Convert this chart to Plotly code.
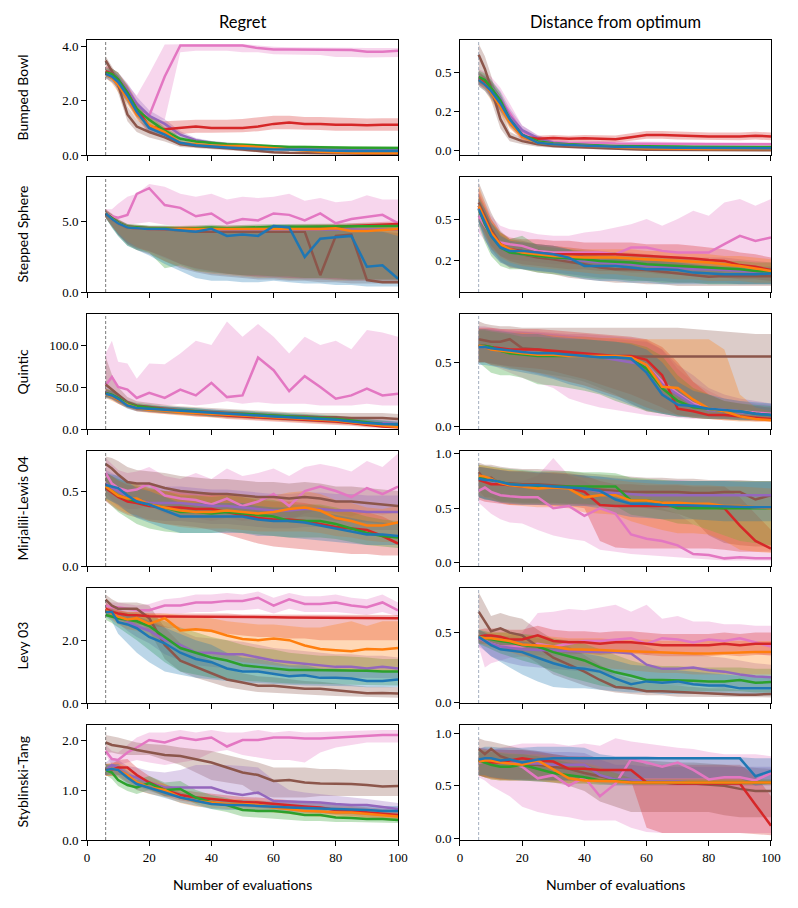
import plotly.graph_objects as go
from plotly.subplots import make_subplots

X = [6, 8, 10, 13, 16, 20, 25, 30, 35, 40, 45, 50, 55, 60, 65, 70, 75, 80, 85, 90, 95, 100]

COLORS = {
    "blue": (31, 119, 180),
    "orange": (255, 127, 14),
    "green": (44, 160, 44),
    "red": (214, 39, 40),
    "purple": (148, 103, 189),
    "brown": (140, 86, 75),
    "pink": (227, 119, 194),
}
DRAW_ORDER = ["pink", "brown", "purple", "red", "green", "orange", "blue"]

# each entry: (mean, lower band, upper band)
bumped_bowl_regret = {
    "blue": ([3.0, 2.9, 2.7, 2.2, 1.6, 1.0, 0.75, 0.45, 0.36, 0.31, 0.28, 0.25, 0.22, 0.2, 0.2, 0.18, 0.17, 0.16, 0.15, 0.15, 0.15, 0.15],
             [2.85, 2.7, 2.45, 1.95, 1.4, 0.85, 0.62, 0.37, 0.29, 0.25, 0.22, 0.2, 0.17, 0.15, 0.15, 0.13, 0.12, 0.11, 0.1, 0.1, 0.1, 0.1],
             [3.15, 3.1, 2.95, 2.45, 1.8, 1.15, 0.88, 0.55, 0.43, 0.38, 0.34, 0.3, 0.27, 0.25, 0.25, 0.23, 0.22, 0.21, 0.2, 0.2, 0.2, 0.2]),
    "orange": ([3.0, 2.85, 2.6, 2.1, 1.5, 1.1, 0.85, 0.45, 0.4, 0.35, 0.33, 0.33, 0.3, 0.25, 0.2, 0.15, 0.12, 0.1, 0.08, 0.07, 0.07, 0.07],
               [2.85, 2.65, 2.35, 1.85, 1.3, 0.95, 0.7, 0.37, 0.32, 0.28, 0.26, 0.26, 0.23, 0.19, 0.15, 0.1, 0.08, 0.06, 0.05, 0.04, 0.04, 0.04],
               [3.15, 3.05, 2.85, 2.35, 1.7, 1.25, 1.0, 0.55, 0.48, 0.42, 0.4, 0.4, 0.37, 0.31, 0.26, 0.2, 0.16, 0.14, 0.12, 0.1, 0.1, 0.1]),
    "green": ([3.05, 3.0, 2.8, 2.3, 1.7, 1.3, 0.9, 0.6, 0.5, 0.45, 0.4, 0.38, 0.35, 0.32, 0.3, 0.3, 0.28, 0.28, 0.27, 0.27, 0.26, 0.26],
              [2.9, 2.8, 2.55, 2.05, 1.5, 1.12, 0.78, 0.52, 0.43, 0.39, 0.34, 0.32, 0.3, 0.27, 0.25, 0.25, 0.23, 0.23, 0.22, 0.22, 0.21, 0.21],
              [3.2, 3.2, 3.05, 2.55, 1.9, 1.48, 1.02, 0.68, 0.57, 0.51, 0.46, 0.44, 0.4, 0.37, 0.35, 0.35, 0.33, 0.33, 0.32, 0.32, 0.31, 0.31]),
    "red": ([3.1, 3.0, 2.8, 2.3, 1.7, 1.05, 0.95, 1.0, 1.05, 1.0, 1.0, 1.0, 1.05, 1.15, 1.2, 1.15, 1.15, 1.12, 1.12, 1.1, 1.12, 1.12],
            [2.9, 2.8, 2.5, 1.95, 1.35, 0.8, 0.7, 0.78, 0.82, 0.82, 0.82, 0.84, 0.88, 0.95, 0.95, 0.94, 0.92, 0.9, 0.9, 0.88, 0.9, 0.9],
            [3.3, 3.2, 3.05, 2.6, 2.0, 1.4, 1.25, 1.28, 1.3, 1.3, 1.3, 1.33, 1.38, 1.45, 1.45, 1.4, 1.4, 1.38, 1.36, 1.35, 1.36, 1.36]),
    "purple": ([3.1, 3.0, 2.8, 2.4, 1.9, 1.45, 1.15, 0.75, 0.55, 0.45, 0.4, 0.35, 0.33, 0.3, 0.28, 0.27, 0.25, 0.23, 0.22, 0.21, 0.2, 0.2],
               [2.95, 2.8, 2.55, 2.15, 1.65, 1.25, 0.98, 0.63, 0.47, 0.38, 0.34, 0.3, 0.28, 0.25, 0.23, 0.22, 0.2, 0.18, 0.17, 0.16, 0.15, 0.15],
               [3.25, 3.2, 3.05, 2.65, 2.15, 1.65, 1.32, 0.88, 0.63, 0.52, 0.46, 0.4, 0.38, 0.35, 0.33, 0.32, 0.3, 0.28, 0.27, 0.26, 0.25, 0.25]),
    "brown": ([3.5, 3.1, 2.6, 1.5, 1.05, 0.85, 0.65, 0.4, 0.33, 0.3, 0.25, 0.2, 0.15, 0.1, 0.08, 0.07, 0.06, 0.05, 0.05, 0.05, 0.05, 0.05],
              [3.3, 2.9, 2.3, 1.25, 0.85, 0.65, 0.5, 0.3, 0.25, 0.22, 0.18, 0.14, 0.1, 0.06, 0.04, 0.03, 0.03, 0.02, 0.02, 0.02, 0.02, 0.02],
              [3.65, 3.3, 2.9, 1.8, 1.3, 1.05, 0.8, 0.5, 0.42, 0.38, 0.32, 0.26, 0.2, 0.15, 0.12, 0.1, 0.09, 0.08, 0.08, 0.08, 0.08, 0.08]),
    "pink": ([3.0, 2.9, 2.7, 2.3, 1.6, 1.45, 2.9, 4.05, 4.05, 4.05, 4.07, 4.05, 3.95, 3.9, 3.9, 3.9, 3.9, 3.88, 3.88, 3.82, 3.82, 3.85],
             [2.85, 2.7, 2.45, 2.0, 1.4, 1.3, 1.3, 3.8, 3.85, 3.85, 3.85, 3.8, 3.8, 3.72, 3.7, 3.7, 3.7, 3.62, 3.62, 3.6, 3.6, 3.62],
             [3.15, 3.1, 2.95, 2.6, 2.2, 3.0, 4.08, 4.1, 4.1, 4.1, 4.1, 4.1, 4.05, 4.0, 3.98, 3.98, 3.98, 3.96, 3.96, 3.95, 3.95, 3.95]),
}

bumped_bowl_distance = {
    "blue": ([0.45, 0.42, 0.38, 0.3, 0.2, 0.1, 0.05, 0.04, 0.035, 0.03, 0.028, 0.025, 0.022, 0.02, 0.02, 0.018, 0.017, 0.016, 0.015, 0.015, 0.015, 0.015],
             [0.41, 0.38, 0.33, 0.25, 0.16, 0.08, 0.04, 0.03, 0.026, 0.022, 0.02, 0.018, 0.016, 0.014, 0.014, 0.012, 0.011, 0.01, 0.01, 0.01, 0.01, 0.01],
             [0.49, 0.47, 0.43, 0.35, 0.24, 0.12, 0.065, 0.05, 0.045, 0.04, 0.036, 0.032, 0.03, 0.028, 0.027, 0.025, 0.024, 0.023, 0.022, 0.022, 0.022, 0.022]),
    "orange": ([0.45, 0.42, 0.37, 0.28, 0.18, 0.09, 0.05, 0.04, 0.035, 0.03, 0.025, 0.02, 0.018, 0.015, 0.013, 0.012, 0.01, 0.01, 0.01, 0.01, 0.01, 0.01],
               [0.41, 0.38, 0.32, 0.23, 0.14, 0.07, 0.04, 0.03, 0.026, 0.022, 0.018, 0.014, 0.012, 0.01, 0.008, 0.007, 0.006, 0.006, 0.006, 0.006, 0.006, 0.006],
               [0.49, 0.47, 0.42, 0.33, 0.22, 0.11, 0.065, 0.05, 0.044, 0.038, 0.032, 0.027, 0.024, 0.02, 0.018, 0.017, 0.015, 0.015, 0.015, 0.015, 0.015, 0.015]),
    "green": ([0.47, 0.45, 0.4, 0.32, 0.2, 0.1, 0.06, 0.045, 0.04, 0.035, 0.032, 0.03, 0.03, 0.028, 0.027, 0.026, 0.025, 0.025, 0.024, 0.024, 0.023, 0.023],
              [0.43, 0.41, 0.35, 0.27, 0.16, 0.08, 0.05, 0.037, 0.032, 0.028, 0.026, 0.024, 0.024, 0.022, 0.021, 0.02, 0.019, 0.019, 0.018, 0.018, 0.017, 0.017],
              [0.51, 0.49, 0.45, 0.37, 0.24, 0.12, 0.07, 0.053, 0.048, 0.042, 0.038, 0.036, 0.036, 0.034, 0.033, 0.032, 0.031, 0.031, 0.03, 0.03, 0.029, 0.029]),
    "red": ([0.46, 0.43, 0.39, 0.3, 0.19, 0.09, 0.075, 0.08, 0.075, 0.078, 0.075, 0.072, 0.085, 0.1, 0.1, 0.095, 0.093, 0.09, 0.09, 0.09, 0.095, 0.09],
            [0.42, 0.39, 0.34, 0.25, 0.15, 0.065, 0.055, 0.058, 0.055, 0.056, 0.054, 0.052, 0.062, 0.075, 0.075, 0.07, 0.068, 0.066, 0.066, 0.066, 0.07, 0.066],
            [0.5, 0.47, 0.44, 0.35, 0.23, 0.115, 0.095, 0.1, 0.095, 0.1, 0.098, 0.096, 0.11, 0.125, 0.125, 0.12, 0.118, 0.115, 0.115, 0.115, 0.12, 0.115]),
    "purple": ([0.46, 0.44, 0.4, 0.33, 0.22, 0.13, 0.08, 0.05, 0.04, 0.035, 0.03, 0.025, 0.022, 0.02, 0.02, 0.018, 0.017, 0.016, 0.016, 0.015, 0.015, 0.015],
               [0.42, 0.4, 0.35, 0.28, 0.18, 0.1, 0.06, 0.04, 0.032, 0.028, 0.024, 0.02, 0.018, 0.016, 0.016, 0.014, 0.013, 0.012, 0.012, 0.011, 0.011, 0.011],
               [0.5, 0.48, 0.45, 0.38, 0.27, 0.16, 0.1, 0.06, 0.048, 0.042, 0.036, 0.03, 0.026, 0.024, 0.024, 0.022, 0.021, 0.02, 0.02, 0.019, 0.019, 0.019]),
    "brown": ([0.61, 0.52, 0.4, 0.2, 0.09, 0.06, 0.04, 0.03, 0.025, 0.02, 0.015, 0.01, 0.008, 0.006, 0.005, 0.004, 0.003, 0.002, 0.002, 0.002, 0.002, 0.002],
              [0.5, 0.44, 0.32, 0.14, 0.06, 0.04, 0.025, 0.018, 0.014, 0.01, 0.007, 0.004, 0.003, 0.002, 0.001, 0.001, 0.0, 0.0, 0.0, 0.0, 0.0, 0.0],
              [0.68, 0.6, 0.48, 0.27, 0.12, 0.08, 0.055, 0.042, 0.036, 0.03, 0.024, 0.018, 0.015, 0.012, 0.01, 0.009, 0.008, 0.007, 0.007, 0.007, 0.007, 0.007]),
    "pink": ([0.47, 0.44, 0.4, 0.33, 0.24, 0.12, 0.07, 0.055, 0.05, 0.05, 0.048, 0.045, 0.045, 0.045, 0.043, 0.042, 0.042, 0.041, 0.04, 0.04, 0.04, 0.04],
             [0.42, 0.39, 0.34, 0.26, 0.18, 0.09, 0.05, 0.04, 0.037, 0.037, 0.035, 0.033, 0.033, 0.033, 0.032, 0.031, 0.031, 0.03, 0.03, 0.03, 0.03, 0.03],
             [0.52, 0.5, 0.47, 0.4, 0.3, 0.16, 0.095, 0.075, 0.065, 0.063, 0.06, 0.058, 0.058, 0.057, 0.055, 0.054, 0.054, 0.053, 0.052, 0.052, 0.052, 0.052]),
}

stepped_sphere_regret = {
    "blue": ([5.6, 5.2, 4.9, 4.6, 4.55, 4.5, 4.5, 4.4, 4.3, 4.5, 4.0, 4.1, 4.0, 4.7, 4.6, 2.5, 3.8, 3.9, 4.0, 1.8, 1.9, 0.95],
             [5.3, 4.6, 4.0, 3.3, 3.0, 2.6, 2.0, 1.5, 1.0, 0.8, 0.8, 0.7, 0.7, 0.8, 0.7, 0.6, 0.6, 0.5, 0.5, 0.4, 0.4, 0.4],
             [5.8, 5.5, 5.1, 4.8, 4.7, 4.65, 4.65, 4.6, 4.6, 4.7, 4.5, 4.5, 4.6, 4.8, 4.8, 4.6, 4.5, 4.5, 4.6, 4.4, 4.3, 4.0]),
    "orange": ([5.6, 5.2, 4.9, 4.6, 4.55, 4.5, 4.5, 4.5, 4.45, 4.45, 4.45, 4.45, 4.45, 4.45, 4.5, 4.5, 4.5, 4.55, 4.35, 4.35, 4.45, 4.5],
               [5.3, 4.7, 4.2, 3.6, 3.2, 2.8, 2.2, 1.8, 1.5, 1.3, 1.2, 1.1, 1.0, 1.0, 0.9, 0.9, 0.9, 0.8, 0.8, 0.8, 0.7, 0.7],
               [5.8, 5.5, 5.1, 4.8, 4.7, 4.65, 4.65, 4.65, 4.6, 4.6, 4.6, 4.6, 4.6, 4.6, 4.65, 4.65, 4.65, 4.7, 4.6, 4.6, 4.65, 4.7]),
    "green": ([5.6, 5.25, 4.95, 4.65, 4.6, 4.55, 4.55, 4.5, 4.55, 4.6, 4.55, 4.6, 4.6, 4.65, 4.65, 4.65, 4.65, 4.7, 4.65, 4.65, 4.7, 4.7],
              [5.3, 4.6, 4.0, 3.3, 3.0, 2.8, 1.7, 1.9, 1.5, 1.4, 1.3, 1.2, 1.2, 1.1, 1.1, 1.0, 1.0, 1.0, 0.9, 0.9, 0.9, 0.9],
              [5.8, 5.5, 5.15, 4.85, 4.8, 4.75, 4.75, 4.7, 4.75, 4.8, 4.75, 4.8, 4.8, 4.85, 4.85, 4.85, 4.85, 4.9, 4.85, 4.85, 4.9, 4.9]),
    "red": ([5.6, 5.25, 4.9, 4.6, 4.55, 4.5, 4.5, 4.5, 4.5, 4.5, 4.5, 4.5, 4.55, 4.55, 4.6, 4.6, 4.6, 4.65, 4.7, 4.75, 4.8, 4.85],
            [5.3, 4.7, 4.1, 3.4, 3.1, 2.9, 2.5, 2.0, 1.7, 1.5, 1.3, 1.2, 1.1, 1.1, 1.0, 1.0, 1.0, 0.9, 0.9, 0.9, 0.9, 0.9],
            [5.9, 5.55, 5.15, 4.8, 4.75, 4.7, 4.7, 4.7, 4.7, 4.7, 4.7, 4.7, 4.75, 4.75, 4.8, 4.8, 4.8, 4.85, 4.9, 4.95, 5.0, 5.05]),
    "purple": ([5.6, 5.2, 4.9, 4.6, 4.55, 4.5, 4.5, 4.45, 4.45, 4.45, 4.45, 4.4, 4.4, 4.4, 4.45, 4.4, 4.4, 4.4, 4.45, 4.45, 4.45, 4.45],
               [5.3, 4.7, 4.1, 3.5, 3.2, 2.9, 2.4, 2.0, 1.6, 1.4, 1.3, 1.2, 1.1, 1.0, 1.0, 0.9, 0.9, 0.9, 0.8, 0.8, 0.8, 0.8],
               [5.8, 5.5, 5.1, 4.8, 4.7, 4.65, 4.65, 4.6, 4.6, 4.6, 4.6, 4.55, 4.55, 4.55, 4.6, 4.55, 4.55, 4.55, 4.6, 4.6, 4.6, 4.6]),
    "brown": ([5.6, 5.25, 4.95, 4.65, 4.6, 4.5, 4.45, 4.4, 4.3, 4.3, 4.3, 4.3, 4.3, 4.3, 4.3, 4.3, 1.2, 4.0, 4.1, 0.85, 0.7, 0.7],
              [5.3, 4.7, 4.1, 3.4, 3.0, 2.7, 2.2, 1.7, 1.4, 1.2, 1.1, 1.0, 0.9, 0.9, 0.8, 0.8, 0.7, 0.7, 0.6, 0.6, 0.6, 0.6],
              [5.9, 5.6, 5.2, 4.85, 4.8, 4.7, 4.65, 4.6, 4.6, 4.6, 4.6, 4.6, 4.6, 4.6, 4.6, 4.6, 4.5, 4.5, 4.5, 4.4, 4.3, 4.2]),
    "pink": ([5.6, 5.4, 5.3, 5.5, 7.0, 7.4, 6.2, 6.0, 5.4, 5.6, 4.9, 5.2, 5.1, 5.6, 5.5, 5.1, 5.6, 4.9, 5.2, 5.35, 5.5, 4.9],
             [5.3, 5.0, 4.9, 4.8, 4.9, 5.0, 4.8, 4.7, 4.6, 4.7, 4.6, 4.5, 4.6, 4.6, 4.6, 4.6, 4.5, 4.5, 4.6, 4.6, 4.5, 4.4],
             [5.9, 5.9, 6.3, 6.8, 7.0, 7.7, 7.5, 7.0, 6.8, 7.0, 6.6, 6.8, 6.7, 6.8, 7.0, 6.5, 6.7, 6.4, 6.5, 6.9, 6.6, 6.6]),
}

stepped_sphere_distance = {
    "blue": ([0.56, 0.48, 0.4, 0.33, 0.31, 0.31, 0.3, 0.29, 0.27, 0.22, 0.22, 0.22, 0.21, 0.2, 0.2, 0.195, 0.18, 0.175, 0.17, 0.17, 0.17, 0.175],
             [0.48, 0.38, 0.3, 0.24, 0.22, 0.2, 0.19, 0.18, 0.16, 0.14, 0.13, 0.13, 0.12, 0.12, 0.11, 0.11, 0.11, 0.11, 0.11, 0.11, 0.11, 0.11],
             [0.62, 0.56, 0.48, 0.4, 0.37, 0.36, 0.35, 0.34, 0.32, 0.28, 0.27, 0.27, 0.26, 0.25, 0.25, 0.24, 0.23, 0.22, 0.21, 0.21, 0.21, 0.21]),
    "orange": ([0.58, 0.5, 0.42, 0.35, 0.32, 0.3, 0.29, 0.28, 0.275, 0.27, 0.27, 0.27, 0.265, 0.26, 0.255, 0.25, 0.245, 0.24, 0.23, 0.22, 0.205, 0.19],
               [0.5, 0.4, 0.33, 0.27, 0.24, 0.22, 0.21, 0.2, 0.19, 0.18, 0.17, 0.17, 0.16, 0.15, 0.15, 0.14, 0.14, 0.13, 0.13, 0.13, 0.12, 0.12],
               [0.7, 0.6, 0.5, 0.42, 0.38, 0.36, 0.35, 0.34, 0.33, 0.32, 0.32, 0.32, 0.32, 0.31, 0.31, 0.3, 0.3, 0.29, 0.28, 0.28, 0.27, 0.26]),
    "green": ([0.56, 0.47, 0.4, 0.33, 0.3, 0.29, 0.28, 0.27, 0.265, 0.26, 0.25, 0.245, 0.24, 0.23, 0.225, 0.22, 0.215, 0.21, 0.205, 0.2, 0.19, 0.185],
              [0.46, 0.36, 0.28, 0.22, 0.2, 0.2, 0.18, 0.17, 0.16, 0.15, 0.14, 0.14, 0.13, 0.13, 0.12, 0.12, 0.12, 0.11, 0.11, 0.11, 0.11, 0.11],
              [0.64, 0.56, 0.48, 0.42, 0.38, 0.4, 0.34, 0.33, 0.32, 0.31, 0.3, 0.3, 0.29, 0.28, 0.27, 0.27, 0.26, 0.26, 0.25, 0.25, 0.24, 0.24]),
    "red": ([0.58, 0.5, 0.42, 0.35, 0.32, 0.31, 0.3, 0.29, 0.29, 0.29, 0.29, 0.29, 0.285, 0.28, 0.275, 0.27, 0.265, 0.255, 0.25, 0.225, 0.215, 0.195],
            [0.5, 0.42, 0.34, 0.28, 0.25, 0.23, 0.22, 0.21, 0.2, 0.2, 0.19, 0.19, 0.18, 0.18, 0.17, 0.17, 0.16, 0.16, 0.15, 0.14, 0.14, 0.13],
            [0.66, 0.58, 0.5, 0.42, 0.39, 0.38, 0.38, 0.37, 0.37, 0.36, 0.36, 0.36, 0.36, 0.35, 0.35, 0.35, 0.34, 0.33, 0.32, 0.3, 0.29, 0.27]),
    "purple": ([0.57, 0.48, 0.4, 0.33, 0.3, 0.29, 0.28, 0.27, 0.26, 0.25, 0.24, 0.235, 0.23, 0.22, 0.215, 0.21, 0.2, 0.2, 0.195, 0.19, 0.185, 0.18],
               [0.48, 0.38, 0.3, 0.24, 0.21, 0.2, 0.19, 0.18, 0.17, 0.16, 0.15, 0.14, 0.14, 0.13, 0.13, 0.12, 0.12, 0.12, 0.12, 0.11, 0.11, 0.11],
               [0.65, 0.57, 0.48, 0.41, 0.37, 0.36, 0.35, 0.34, 0.33, 0.32, 0.31, 0.3, 0.3, 0.29, 0.28, 0.28, 0.27, 0.27, 0.27, 0.26, 0.25, 0.24]),
    "brown": ([0.6, 0.52, 0.44, 0.35, 0.3, 0.29, 0.27, 0.26, 0.245, 0.23, 0.21, 0.2, 0.2, 0.195, 0.185, 0.175, 0.165, 0.155, 0.16, 0.16, 0.158, 0.158],
              [0.48, 0.4, 0.32, 0.25, 0.21, 0.2, 0.18, 0.17, 0.15, 0.14, 0.13, 0.12, 0.12, 0.11, 0.11, 0.1, 0.1, 0.1, 0.1, 0.1, 0.1, 0.1],
              [0.72, 0.63, 0.54, 0.43, 0.38, 0.37, 0.35, 0.34, 0.32, 0.3, 0.28, 0.27, 0.27, 0.26, 0.25, 0.24, 0.23, 0.22, 0.22, 0.22, 0.22, 0.22]),
    "pink": ([0.52, 0.46, 0.41, 0.36, 0.35, 0.34, 0.31, 0.3, 0.3, 0.3, 0.3, 0.29, 0.33, 0.33, 0.31, 0.3, 0.3, 0.3, 0.35, 0.4, 0.37, 0.39],
             [0.42, 0.37, 0.32, 0.28, 0.26, 0.25, 0.24, 0.23, 0.23, 0.23, 0.22, 0.22, 0.23, 0.23, 0.22, 0.22, 0.21, 0.21, 0.22, 0.23, 0.22, 0.22],
             [0.68, 0.6, 0.52, 0.46, 0.44, 0.43, 0.41, 0.4, 0.4, 0.42, 0.43, 0.45, 0.47, 0.5, 0.46, 0.5, 0.55, 0.52, 0.6, 0.62, 0.58, 0.62]),
}

quintic_regret = {
    "blue": ([42, 40, 36, 28, 25, 24, 23, 22, 21, 19, 18, 17, 16, 15, 14, 13, 12, 11, 9, 7, 6, 5.5],
             [37, 35, 31, 24, 21, 20, 19, 18, 17, 15, 14, 13, 12, 11, 10, 9, 8, 7, 6, 4, 3, 3],
             [47, 45, 41, 32, 29, 28, 27, 26, 25, 23, 22, 21, 20, 19, 18, 17, 16, 15, 13, 11, 10, 9]),
    "orange": ([42, 39, 35, 29, 25, 23, 22, 20, 19, 18, 17, 16, 15, 14, 13, 12, 11, 10, 8, 6, 4, 2.5],
               [37, 34, 30, 25, 21, 19, 18, 16, 15, 14, 13, 12, 11, 10, 9, 8, 7, 6, 5, 3, 2, 1],
               [48, 45, 40, 33, 29, 27, 26, 24, 23, 22, 21, 20, 19, 18, 17, 16, 15, 14, 12, 10, 8, 6]),
    "green": ([43, 41, 37, 30, 27, 25, 23, 22, 21, 19, 18, 18, 17, 16, 15, 14, 13, 12, 10, 8, 6, 5],
              [38, 36, 32, 26, 23, 21, 19, 18, 17, 15, 14, 14, 13, 12, 11, 10, 9, 8, 7, 5, 3, 2],
              [48, 46, 42, 34, 31, 29, 27, 26, 25, 23, 22, 22, 21, 20, 19, 18, 17, 16, 14, 12, 10, 8]),
    "red": ([43, 40, 35, 29, 25, 24, 22, 21, 19, 18, 16, 15, 14, 13, 12, 11, 10, 9, 7, 5, 3, 2],
            [38, 35, 30, 25, 21, 20, 18, 17, 15, 14, 12, 11, 10, 9, 8, 7, 6, 5, 4, 2, 1, 0.5],
            [48, 45, 40, 33, 29, 28, 26, 25, 23, 22, 20, 19, 18, 17, 16, 15, 14, 13, 11, 9, 7, 5]),
    "purple": ([44, 41, 37, 30, 26, 24, 23, 22, 20, 19, 18, 17, 16, 15, 14, 13, 12, 11, 9, 8, 7, 6],
               [39, 36, 32, 26, 22, 20, 19, 18, 16, 15, 14, 13, 12, 11, 10, 9, 8, 7, 6, 5, 4, 3],
               [49, 46, 42, 34, 30, 28, 27, 26, 24, 23, 22, 21, 20, 19, 18, 17, 16, 15, 13, 12, 11, 10]),
    "brown": ([53, 47, 40, 32, 28, 26, 24, 22, 21, 20, 19, 18, 17, 16, 15, 15, 14, 14, 13, 13, 13, 12],
              [40, 37, 33, 27, 23, 21, 19, 17, 16, 15, 14, 13, 12, 11, 10, 10, 9, 9, 8, 8, 8, 7],
              [86, 65, 50, 38, 33, 31, 29, 27, 26, 25, 24, 23, 22, 21, 20, 20, 19, 19, 19, 19, 19, 18]),
    "pink": ([52, 62, 50, 47, 37, 43, 37, 47, 40, 55, 38, 40, 85, 70, 45, 63, 50, 36, 40, 48, 40, 42],
             [38, 40, 36, 32, 30, 28, 28, 30, 28, 30, 33, 30, 32, 30, 30, 30, 28, 28, 28, 30, 28, 28],
             [90, 105, 80, 78, 60, 78, 77, 90, 105, 100, 128, 110, 125, 110, 90, 110, 100, 105, 95, 118, 115, 110]),
}

quintic_distance = {
    "blue": ([0.62, 0.62, 0.61, 0.6, 0.59, 0.58, 0.57, 0.57, 0.56, 0.55, 0.54, 0.54, 0.53, 0.42, 0.25, 0.17, 0.16, 0.14, 0.13, 0.12, 0.1, 0.09],
             [0.48, 0.48, 0.47, 0.46, 0.44, 0.42, 0.4, 0.37, 0.33, 0.3, 0.26, 0.22, 0.17, 0.13, 0.1, 0.08, 0.07, 0.06, 0.06, 0.05, 0.05, 0.05],
             [0.76, 0.76, 0.75, 0.74, 0.73, 0.72, 0.72, 0.7, 0.69, 0.68, 0.67, 0.66, 0.64, 0.6, 0.5, 0.35, 0.28, 0.25, 0.22, 0.2, 0.19, 0.18]),
    "orange": ([0.63, 0.62, 0.6, 0.59, 0.58, 0.57, 0.56, 0.56, 0.55, 0.55, 0.55, 0.55, 0.54, 0.48, 0.31, 0.3, 0.21, 0.14, 0.12, 0.08, 0.06, 0.05],
               [0.5, 0.5, 0.48, 0.47, 0.46, 0.44, 0.42, 0.39, 0.35, 0.32, 0.28, 0.24, 0.2, 0.15, 0.11, 0.09, 0.07, 0.06, 0.05, 0.04, 0.04, 0.04],
               [0.76, 0.76, 0.75, 0.74, 0.73, 0.73, 0.72, 0.71, 0.7, 0.7, 0.69, 0.69, 0.68, 0.68, 0.68, 0.68, 0.68, 0.68, 0.6, 0.25, 0.15, 0.12]),
    "green": ([0.63, 0.63, 0.62, 0.59, 0.57, 0.56, 0.55, 0.55, 0.55, 0.55, 0.54, 0.54, 0.53, 0.45, 0.3, 0.2, 0.15, 0.14, 0.12, 0.12, 0.1, 0.09],
              [0.5, 0.46, 0.42, 0.4, 0.4, 0.38, 0.33, 0.32, 0.3, 0.28, 0.25, 0.2, 0.16, 0.12, 0.1, 0.08, 0.07, 0.06, 0.06, 0.05, 0.05, 0.05],
              [0.75, 0.75, 0.74, 0.73, 0.72, 0.7, 0.7, 0.69, 0.68, 0.68, 0.67, 0.66, 0.65, 0.62, 0.55, 0.4, 0.3, 0.25, 0.2, 0.18, 0.17, 0.16]),
    "red": ([0.63, 0.63, 0.62, 0.61, 0.6, 0.6, 0.6, 0.59, 0.58, 0.57, 0.56, 0.55, 0.55, 0.52, 0.4, 0.14, 0.12, 0.09, 0.09, 0.08, 0.07, 0.06],
            [0.5, 0.5, 0.49, 0.48, 0.47, 0.46, 0.45, 0.43, 0.4, 0.37, 0.33, 0.29, 0.25, 0.2, 0.15, 0.09, 0.07, 0.06, 0.05, 0.05, 0.04, 0.04],
            [0.77, 0.77, 0.77, 0.76, 0.76, 0.76, 0.76, 0.75, 0.74, 0.73, 0.72, 0.71, 0.7, 0.68, 0.62, 0.5, 0.35, 0.25, 0.2, 0.18, 0.16, 0.15]),
    "purple": ([0.62, 0.62, 0.61, 0.6, 0.58, 0.57, 0.56, 0.56, 0.55, 0.55, 0.54, 0.52, 0.5, 0.48, 0.33, 0.25, 0.17, 0.13, 0.12, 0.11, 0.1, 0.09],
               [0.5, 0.5, 0.49, 0.48, 0.46, 0.44, 0.41, 0.38, 0.35, 0.32, 0.28, 0.24, 0.2, 0.15, 0.11, 0.09, 0.08, 0.07, 0.06, 0.06, 0.05, 0.05],
               [0.76, 0.76, 0.76, 0.75, 0.74, 0.74, 0.73, 0.72, 0.71, 0.7, 0.69, 0.68, 0.67, 0.66, 0.6, 0.48, 0.4, 0.3, 0.25, 0.22, 0.2, 0.18]),
    "brown": ([0.68, 0.67, 0.66, 0.66, 0.68, 0.61, 0.6, 0.58, 0.57, 0.56, 0.55, 0.545, 0.545, 0.545, 0.545, 0.545, 0.545, 0.545, 0.545, 0.545, 0.545, 0.545],
              [0.5, 0.5, 0.48, 0.47, 0.45, 0.44, 0.42, 0.4, 0.38, 0.35, 0.3, 0.25, 0.18, 0.12, 0.1, 0.08, 0.08, 0.08, 0.07, 0.07, 0.07, 0.07],
              [0.82, 0.8, 0.79, 0.78, 0.78, 0.77, 0.77, 0.77, 0.77, 0.77, 0.77, 0.77, 0.77, 0.77, 0.77, 0.77, 0.76, 0.75, 0.74, 0.73, 0.72, 0.72]),
    "pink": ([0.63, 0.63, 0.62, 0.6, 0.59, 0.58, 0.57, 0.56, 0.55, 0.55, 0.54, 0.54, 0.53, 0.48, 0.35, 0.26, 0.18, 0.14, 0.13, 0.12, 0.11, 0.1],
             [0.5, 0.5, 0.48, 0.45, 0.42, 0.38, 0.34, 0.3, 0.22, 0.18, 0.15, 0.13, 0.11, 0.09, 0.08, 0.07, 0.06, 0.06, 0.06, 0.05, 0.05, 0.05],
             [0.78, 0.78, 0.77, 0.76, 0.75, 0.74, 0.74, 0.73, 0.72, 0.72, 0.71, 0.7, 0.69, 0.67, 0.6, 0.45, 0.35, 0.28, 0.22, 0.2, 0.18, 0.17]),
}

mirjalili_regret = {
    "blue": ([0.54, 0.53, 0.52, 0.47, 0.43, 0.41, 0.37, 0.33, 0.33, 0.33, 0.33, 0.33, 0.31, 0.3, 0.3, 0.29, 0.27, 0.25, 0.23, 0.21, 0.21, 0.2],
             [0.45, 0.43, 0.41, 0.36, 0.32, 0.29, 0.25, 0.22, 0.22, 0.22, 0.22, 0.22, 0.2, 0.2, 0.19, 0.18, 0.17, 0.16, 0.15, 0.14, 0.14, 0.14],
             [0.62, 0.61, 0.6, 0.56, 0.52, 0.5, 0.46, 0.42, 0.42, 0.42, 0.42, 0.42, 0.4, 0.39, 0.39, 0.38, 0.36, 0.34, 0.32, 0.3, 0.29, 0.28]),
    "orange": ([0.53, 0.5, 0.47, 0.45, 0.45, 0.41, 0.39, 0.37, 0.36, 0.36, 0.37, 0.36, 0.35, 0.36, 0.38, 0.39, 0.37, 0.32, 0.3, 0.27, 0.27, 0.29],
               [0.44, 0.41, 0.38, 0.35, 0.34, 0.3, 0.28, 0.26, 0.25, 0.25, 0.25, 0.24, 0.23, 0.23, 0.23, 0.23, 0.22, 0.2, 0.19, 0.17, 0.16, 0.16],
               [0.62, 0.6, 0.57, 0.55, 0.55, 0.52, 0.5, 0.48, 0.47, 0.47, 0.48, 0.47, 0.46, 0.47, 0.49, 0.5, 0.48, 0.44, 0.42, 0.39, 0.38, 0.4]),
    "green": ([0.53, 0.5, 0.47, 0.45, 0.43, 0.41, 0.39, 0.36, 0.36, 0.35, 0.36, 0.35, 0.34, 0.33, 0.3, 0.3, 0.3, 0.28, 0.25, 0.22, 0.2, 0.19],
              [0.44, 0.4, 0.36, 0.32, 0.28, 0.25, 0.23, 0.22, 0.22, 0.22, 0.23, 0.22, 0.21, 0.2, 0.19, 0.19, 0.19, 0.18, 0.16, 0.14, 0.13, 0.12],
              [0.62, 0.6, 0.58, 0.56, 0.54, 0.52, 0.5, 0.47, 0.47, 0.46, 0.47, 0.46, 0.45, 0.44, 0.41, 0.41, 0.41, 0.39, 0.36, 0.33, 0.31, 0.3]),
    "red": ([0.52, 0.49, 0.46, 0.43, 0.42, 0.4, 0.39, 0.39, 0.38, 0.38, 0.36, 0.34, 0.32, 0.31, 0.31, 0.3, 0.28, 0.26, 0.25, 0.24, 0.2, 0.15],
            [0.43, 0.4, 0.37, 0.34, 0.32, 0.3, 0.28, 0.27, 0.26, 0.24, 0.21, 0.18, 0.15, 0.13, 0.12, 0.11, 0.1, 0.09, 0.08, 0.08, 0.07, 0.07],
            [0.62, 0.6, 0.57, 0.54, 0.53, 0.51, 0.5, 0.5, 0.49, 0.49, 0.48, 0.46, 0.44, 0.43, 0.43, 0.42, 0.4, 0.38, 0.37, 0.36, 0.33, 0.28]),
    "purple": ([0.55, 0.52, 0.5, 0.46, 0.44, 0.42, 0.42, 0.42, 0.41, 0.4, 0.4, 0.39, 0.38, 0.37, 0.37, 0.38, 0.38, 0.37, 0.37, 0.36, 0.36, 0.36],
               [0.46, 0.43, 0.4, 0.36, 0.33, 0.31, 0.3, 0.3, 0.29, 0.28, 0.28, 0.27, 0.26, 0.25, 0.25, 0.26, 0.26, 0.25, 0.25, 0.24, 0.24, 0.24],
               [0.64, 0.62, 0.6, 0.56, 0.55, 0.53, 0.53, 0.53, 0.52, 0.51, 0.51, 0.5, 0.49, 0.48, 0.48, 0.49, 0.49, 0.48, 0.48, 0.47, 0.47, 0.47]),
    "brown": ([0.68, 0.65, 0.61, 0.56, 0.55, 0.55, 0.52, 0.5, 0.49, 0.48, 0.48, 0.47, 0.46, 0.46, 0.45, 0.46, 0.45, 0.43, 0.43, 0.42, 0.41, 0.4],
              [0.56, 0.53, 0.49, 0.44, 0.42, 0.41, 0.39, 0.37, 0.36, 0.35, 0.35, 0.34, 0.33, 0.33, 0.32, 0.33, 0.32, 0.3, 0.3, 0.29, 0.28, 0.28],
              [0.73, 0.72, 0.7, 0.66, 0.64, 0.63, 0.62, 0.6, 0.59, 0.58, 0.58, 0.57, 0.56, 0.56, 0.55, 0.56, 0.55, 0.53, 0.53, 0.52, 0.51, 0.5]),
    "pink": ([0.62, 0.55, 0.52, 0.5, 0.51, 0.55, 0.47, 0.45, 0.44, 0.41, 0.45, 0.4, 0.43, 0.48, 0.4, 0.5, 0.53, 0.5, 0.46, 0.52, 0.48, 0.53],
             [0.5, 0.44, 0.41, 0.38, 0.38, 0.4, 0.35, 0.33, 0.32, 0.3, 0.32, 0.3, 0.31, 0.34, 0.3, 0.35, 0.37, 0.35, 0.33, 0.36, 0.34, 0.36],
             [0.72, 0.68, 0.64, 0.62, 0.63, 0.66, 0.6, 0.58, 0.62, 0.58, 0.65, 0.6, 0.62, 0.65, 0.6, 0.66, 0.68, 0.66, 0.63, 0.7, 0.66, 0.75]),
}

mirjalili_distance = {
    "blue": ([0.77, 0.76, 0.76, 0.74, 0.72, 0.71, 0.71, 0.7, 0.69, 0.68, 0.66, 0.58, 0.54, 0.54, 0.53, 0.53, 0.525, 0.52, 0.515, 0.51, 0.51, 0.51],
             [0.6, 0.58, 0.57, 0.55, 0.54, 0.53, 0.53, 0.53, 0.52, 0.52, 0.5, 0.45, 0.42, 0.41, 0.4, 0.4, 0.4, 0.39, 0.38, 0.38, 0.38, 0.38],
             [0.88, 0.87, 0.86, 0.85, 0.84, 0.84, 0.83, 0.82, 0.81, 0.8, 0.79, 0.77, 0.76, 0.76, 0.75, 0.75, 0.75, 0.75, 0.75, 0.74, 0.74, 0.74]),
    "orange": ([0.8, 0.79, 0.77, 0.73, 0.71, 0.7, 0.68, 0.69, 0.68, 0.6, 0.62, 0.62, 0.57, 0.57, 0.55, 0.55, 0.54, 0.54, 0.52, 0.52, 0.51, 0.5],
               [0.62, 0.6, 0.58, 0.55, 0.53, 0.52, 0.51, 0.51, 0.5, 0.46, 0.45, 0.44, 0.38, 0.34, 0.3, 0.27, 0.27, 0.26, 0.2, 0.12, 0.1, 0.09],
               [0.9, 0.89, 0.88, 0.86, 0.85, 0.84, 0.82, 0.82, 0.81, 0.78, 0.77, 0.76, 0.74, 0.73, 0.72, 0.72, 0.71, 0.71, 0.7, 0.7, 0.69, 0.68]),
    "green": ([0.78, 0.77, 0.76, 0.74, 0.72, 0.71, 0.7, 0.7, 0.7, 0.7, 0.7, 0.7, 0.57, 0.57, 0.55, 0.5, 0.5, 0.5, 0.5, 0.5, 0.5, 0.5],
              [0.6, 0.58, 0.57, 0.56, 0.55, 0.54, 0.54, 0.54, 0.54, 0.54, 0.53, 0.52, 0.44, 0.42, 0.4, 0.36, 0.35, 0.3, 0.25, 0.2, 0.18, 0.16],
              [0.9, 0.89, 0.88, 0.87, 0.86, 0.85, 0.84, 0.84, 0.84, 0.83, 0.83, 0.82, 0.78, 0.77, 0.76, 0.75, 0.75, 0.75, 0.75, 0.75, 0.75, 0.75]),
    "red": ([0.76, 0.74, 0.72, 0.72, 0.71, 0.7, 0.7, 0.7, 0.69, 0.65, 0.53, 0.52, 0.52, 0.52, 0.52, 0.52, 0.52, 0.51, 0.5, 0.34, 0.2, 0.13],
            [0.58, 0.56, 0.55, 0.54, 0.53, 0.53, 0.53, 0.52, 0.52, 0.5, 0.2, 0.14, 0.13, 0.13, 0.13, 0.13, 0.13, 0.13, 0.12, 0.1, 0.1, 0.1],
            [0.88, 0.87, 0.86, 0.85, 0.84, 0.84, 0.83, 0.83, 0.82, 0.8, 0.75, 0.72, 0.72, 0.71, 0.71, 0.71, 0.7, 0.7, 0.7, 0.6, 0.45, 0.3]),
    "purple": ([0.78, 0.76, 0.75, 0.73, 0.72, 0.71, 0.7, 0.7, 0.69, 0.68, 0.65, 0.64, 0.63, 0.62, 0.62, 0.62, 0.62, 0.62, 0.62, 0.62, 0.62, 0.62],
               [0.6, 0.58, 0.57, 0.55, 0.54, 0.54, 0.53, 0.53, 0.53, 0.52, 0.52, 0.52, 0.52, 0.52, 0.51, 0.51, 0.51, 0.5, 0.5, 0.5, 0.5, 0.5],
               [0.88, 0.87, 0.86, 0.85, 0.84, 0.83, 0.82, 0.82, 0.81, 0.8, 0.79, 0.78, 0.77, 0.76, 0.76, 0.76, 0.75, 0.75, 0.75, 0.75, 0.75, 0.75]),
    "brown": ([0.83, 0.76, 0.78, 0.72, 0.73, 0.72, 0.72, 0.71, 0.7, 0.68, 0.67, 0.66, 0.65, 0.65, 0.65, 0.65, 0.64, 0.64, 0.65, 0.65, 0.58, 0.62],
              [0.66, 0.6, 0.6, 0.56, 0.56, 0.55, 0.55, 0.55, 0.54, 0.53, 0.53, 0.52, 0.52, 0.5, 0.48, 0.45, 0.4, 0.25, 0.18, 0.16, 0.15, 0.15],
              [0.92, 0.9, 0.9, 0.88, 0.87, 0.86, 0.86, 0.85, 0.84, 0.82, 0.81, 0.8, 0.79, 0.78, 0.78, 0.77, 0.77, 0.76, 0.76, 0.76, 0.75, 0.75]),
    "pink": ([0.66, 0.69, 0.65, 0.62, 0.61, 0.6, 0.6, 0.5, 0.52, 0.43, 0.5, 0.45, 0.26, 0.22, 0.2, 0.16, 0.08, 0.07, 0.04, 0.05, 0.04, 0.04],
             [0.55, 0.5, 0.45, 0.4, 0.37, 0.36, 0.3, 0.25, 0.22, 0.2, 0.12, 0.1, 0.08, 0.07, 0.06, 0.05, 0.04, 0.03, 0.02, 0.02, 0.02, 0.02],
             [0.78, 0.8, 0.78, 0.76, 0.74, 0.75, 0.8, 0.96, 0.8, 0.75, 0.68, 0.6, 0.55, 0.52, 0.5, 0.45, 0.35, 0.3, 0.25, 0.2, 0.18, 0.15]),
}

levy_regret = {
    "blue": ([2.9, 2.9, 2.57, 2.5, 2.38, 2.1, 1.9, 1.6, 1.4, 1.3, 1.1, 1.0, 1.0, 0.93, 0.85, 0.88, 0.8, 0.8, 0.78, 0.7, 0.7, 0.75],
             [2.75, 2.6, 2.2, 1.9, 1.6, 1.3, 1.0, 0.9, 0.8, 0.75, 0.7, 0.65, 0.62, 0.6, 0.58, 0.56, 0.55, 0.55, 0.53, 0.5, 0.5, 0.5],
             [3.0, 3.0, 2.85, 2.8, 2.75, 2.6, 2.4, 2.2, 2.0, 1.85, 1.6, 1.45, 1.4, 1.3, 1.2, 1.2, 1.1, 1.1, 1.05, 1.0, 1.0, 1.0]),
    "orange": ([2.95, 2.85, 2.75, 2.66, 2.7, 2.52, 2.7, 2.31, 2.35, 2.3, 2.15, 2.04, 2.0, 2.05, 2.0, 1.83, 1.72, 1.68, 1.65, 1.72, 1.7, 1.75],
               [2.8, 2.65, 2.5, 2.35, 2.3, 2.1, 2.0, 1.75, 1.6, 1.5, 1.4, 1.3, 1.25, 1.2, 1.15, 1.1, 1.05, 1.0, 1.0, 1.0, 1.0, 1.0],
               [3.1, 3.0, 2.95, 2.9, 2.9, 2.85, 2.85, 2.8, 2.75, 2.7, 2.6, 2.55, 2.5, 2.5, 2.45, 2.4, 2.4, 2.5, 2.6, 2.45, 2.6, 2.6]),
    "green": ([2.8, 2.75, 2.7, 2.65, 2.6, 2.45, 2.1, 1.75, 1.6, 1.45, 1.35, 1.2, 1.15, 1.1, 1.05, 1.05, 1.05, 1.05, 1.05, 1.03, 1.0, 1.0],
              [2.65, 2.55, 2.4, 2.2, 2.0, 1.7, 1.3, 1.0, 0.9, 0.8, 0.75, 0.7, 0.68, 0.65, 0.62, 0.6, 0.6, 0.6, 0.58, 0.58, 0.56, 0.56],
              [2.95, 2.95, 2.9, 2.88, 2.85, 2.8, 2.6, 2.4, 2.25, 2.1, 2.0, 1.85, 1.75, 1.7, 1.6, 1.55, 1.5, 1.5, 1.48, 1.45, 1.4, 1.4]),
    "red": ([3.0, 2.9, 2.85, 2.8, 2.79, 2.76, 2.75, 2.75, 2.75, 2.74, 2.74, 2.73, 2.73, 2.73, 2.72, 2.72, 2.72, 2.71, 2.71, 2.7, 2.7, 2.7],
            [2.85, 2.75, 2.65, 2.55, 2.5, 2.45, 2.4, 2.35, 2.3, 2.25, 2.2, 2.15, 2.1, 2.1, 2.05, 2.05, 2.0, 2.0, 2.0, 2.0, 2.0, 2.0],
            [3.2, 3.05, 2.95, 2.9, 2.9, 2.85, 2.85, 2.85, 2.85, 2.85, 2.85, 2.82, 2.82, 2.82, 2.82, 2.8, 2.8, 2.8, 2.8, 2.8, 2.8, 2.8]),
    "purple": ([2.95, 2.88, 2.8, 2.6, 2.45, 2.3, 2.0, 1.85, 1.6, 1.6, 1.55, 1.55, 1.45, 1.35, 1.3, 1.25, 1.2, 1.15, 1.15, 1.1, 1.15, 1.1],
               [2.8, 2.7, 2.55, 2.3, 2.1, 1.9, 1.55, 1.35, 1.2, 1.15, 1.1, 1.05, 1.0, 0.95, 0.9, 0.88, 0.85, 0.82, 0.8, 0.8, 0.8, 0.78],
               [3.1, 3.05, 3.0, 2.85, 2.75, 2.65, 2.45, 2.3, 2.1, 2.05, 2.0, 1.95, 1.85, 1.75, 1.7, 1.65, 1.6, 1.55, 1.55, 1.5, 1.5, 1.45]),
    "brown": ([3.29, 3.1, 3.0, 3.0, 3.0, 2.7, 1.85, 1.35, 1.15, 0.95, 0.75, 0.65, 0.55, 0.55, 0.5, 0.45, 0.45, 0.4, 0.35, 0.31, 0.32, 0.3],
              [3.1, 2.9, 2.75, 2.7, 2.65, 2.3, 1.4, 1.0, 0.8, 0.65, 0.5, 0.42, 0.35, 0.33, 0.3, 0.27, 0.25, 0.22, 0.2, 0.18, 0.18, 0.17],
              [3.45, 3.3, 3.2, 3.2, 3.2, 3.1, 2.4, 1.9, 1.6, 1.35, 1.1, 0.95, 0.85, 0.82, 0.75, 0.7, 0.68, 0.62, 0.58, 0.52, 0.52, 0.5]),
    "pink": ([3.1, 3.05, 3.05, 3.0, 2.95, 2.95, 3.1, 3.1, 3.2, 3.2, 3.25, 3.25, 3.35, 3.1, 3.3, 3.15, 3.15, 3.2, 3.1, 3.05, 3.2, 2.95],
             [2.95, 2.9, 2.88, 2.85, 2.8, 2.8, 2.85, 2.85, 2.9, 2.9, 2.95, 2.95, 3.0, 2.85, 3.0, 2.9, 2.9, 2.9, 2.85, 2.8, 2.9, 2.75],
             [3.25, 3.2, 3.2, 3.15, 3.1, 3.15, 3.3, 3.35, 3.45, 3.45, 3.5, 3.45, 3.55, 3.35, 3.5, 3.4, 3.4, 3.45, 3.35, 3.3, 3.45, 3.2]),
}

levy_distance = {
    "blue": ([0.47, 0.44, 0.41, 0.38, 0.37, 0.36, 0.32, 0.28, 0.25, 0.24, 0.22, 0.17, 0.13, 0.15, 0.14, 0.15, 0.13, 0.12, 0.12, 0.1, 0.1, 0.1],
             [0.42, 0.37, 0.33, 0.29, 0.25, 0.2, 0.15, 0.11, 0.1, 0.1, 0.09, 0.08, 0.07, 0.07, 0.06, 0.06, 0.06, 0.06, 0.05, 0.05, 0.05, 0.05],
             [0.52, 0.5, 0.48, 0.46, 0.45, 0.44, 0.42, 0.4, 0.37, 0.35, 0.33, 0.3, 0.27, 0.26, 0.24, 0.23, 0.22, 0.21, 0.2, 0.19, 0.18, 0.18]),
    "orange": ([0.47, 0.46, 0.46, 0.45, 0.44, 0.415, 0.41, 0.4, 0.38, 0.38, 0.375, 0.37, 0.365, 0.36, 0.355, 0.35, 0.35, 0.35, 0.355, 0.36, 0.36, 0.36],
               [0.43, 0.41, 0.4, 0.38, 0.36, 0.33, 0.31, 0.29, 0.27, 0.26, 0.25, 0.24, 0.23, 0.22, 0.21, 0.21, 0.2, 0.2, 0.2, 0.2, 0.2, 0.2],
               [0.51, 0.5, 0.5, 0.5, 0.5, 0.48, 0.48, 0.47, 0.46, 0.46, 0.46, 0.45, 0.45, 0.45, 0.44, 0.44, 0.44, 0.44, 0.44, 0.44, 0.44, 0.44]),
    "green": ([0.47, 0.46, 0.45, 0.44, 0.43, 0.41, 0.4, 0.36, 0.33, 0.3, 0.25, 0.215, 0.19, 0.16, 0.16, 0.16, 0.155, 0.15, 0.15, 0.16, 0.14, 0.145],
              [0.42, 0.4, 0.38, 0.35, 0.33, 0.3, 0.27, 0.22, 0.18, 0.15, 0.12, 0.1, 0.09, 0.08, 0.08, 0.08, 0.08, 0.08, 0.08, 0.08, 0.07, 0.07],
              [0.52, 0.51, 0.5, 0.5, 0.5, 0.49, 0.48, 0.46, 0.44, 0.42, 0.38, 0.34, 0.3, 0.27, 0.26, 0.26, 0.25, 0.25, 0.25, 0.25, 0.24, 0.24]),
    "red": ([0.47, 0.48, 0.48, 0.47, 0.45, 0.45, 0.48, 0.44, 0.43, 0.43, 0.42, 0.43, 0.43, 0.42, 0.41, 0.41, 0.41, 0.41, 0.42, 0.41, 0.42, 0.42],
            [0.42, 0.42, 0.41, 0.4, 0.38, 0.37, 0.38, 0.36, 0.35, 0.35, 0.34, 0.35, 0.35, 0.34, 0.33, 0.33, 0.33, 0.33, 0.34, 0.33, 0.34, 0.34],
            [0.52, 0.53, 0.53, 0.53, 0.52, 0.52, 0.55, 0.52, 0.51, 0.51, 0.5, 0.51, 0.51, 0.5, 0.49, 0.49, 0.49, 0.49, 0.5, 0.49, 0.5, 0.5]),
    "purple": ([0.46, 0.44, 0.42, 0.4, 0.39, 0.38, 0.375, 0.37, 0.365, 0.36, 0.36, 0.36, 0.35, 0.27, 0.24, 0.24, 0.25, 0.23, 0.22, 0.2, 0.186, 0.18],
               [0.4, 0.37, 0.33, 0.3, 0.28, 0.26, 0.25, 0.24, 0.23, 0.22, 0.21, 0.2, 0.18, 0.15, 0.13, 0.12, 0.12, 0.11, 0.1, 0.1, 0.1, 0.1],
               [0.51, 0.5, 0.49, 0.48, 0.47, 0.46, 0.46, 0.45, 0.45, 0.45, 0.45, 0.45, 0.44, 0.4, 0.36, 0.35, 0.35, 0.33, 0.32, 0.3, 0.28, 0.27]),
    "brown": ([0.65, 0.58, 0.51, 0.53, 0.5, 0.48, 0.4, 0.32, 0.27, 0.22, 0.16, 0.11, 0.1, 0.08, 0.08, 0.075, 0.07, 0.06, 0.06, 0.055, 0.055, 0.06],
              [0.5, 0.45, 0.4, 0.4, 0.37, 0.35, 0.28, 0.2, 0.16, 0.12, 0.09, 0.07, 0.06, 0.05, 0.05, 0.04, 0.04, 0.04, 0.035, 0.035, 0.035, 0.035],
              [0.79, 0.7, 0.62, 0.64, 0.62, 0.6, 0.52, 0.45, 0.4, 0.34, 0.27, 0.2, 0.17, 0.14, 0.13, 0.12, 0.11, 0.1, 0.1, 0.09, 0.09, 0.09]),
    "pink": ([0.46, 0.44, 0.42, 0.4, 0.4, 0.4, 0.42, 0.4, 0.42, 0.44, 0.44, 0.45, 0.46, 0.42, 0.46, 0.45, 0.43, 0.45, 0.44, 0.46, 0.43, 0.4],
             [0.4, 0.25, 0.28, 0.3, 0.32, 0.33, 0.34, 0.33, 0.34, 0.35, 0.35, 0.36, 0.37, 0.34, 0.36, 0.36, 0.35, 0.36, 0.36, 0.37, 0.35, 0.33],
             [0.52, 0.5, 0.48, 0.47, 0.48, 0.5, 0.64, 0.65, 0.67, 0.66, 0.68, 0.7, 0.65, 0.7, 0.6, 0.62, 0.58, 0.58, 0.56, 0.56, 0.55, 0.55]),
}

styblinski_regret = {
    "blue": ([1.4, 1.42, 1.4, 1.25, 1.12, 1.05, 0.95, 0.85, 0.78, 0.72, 0.7, 0.7, 0.68, 0.66, 0.65, 0.64, 0.63, 0.62, 0.62, 0.6, 0.58, 0.58],
             [1.3, 1.3, 1.27, 1.12, 1.0, 0.93, 0.84, 0.75, 0.68, 0.62, 0.6, 0.6, 0.58, 0.56, 0.55, 0.54, 0.53, 0.52, 0.52, 0.5, 0.48, 0.48],
             [1.5, 1.52, 1.52, 1.38, 1.24, 1.17, 1.06, 0.95, 0.88, 0.82, 0.8, 0.8, 0.78, 0.76, 0.75, 0.74, 0.73, 0.72, 0.72, 0.7, 0.68, 0.68]),
    "orange": ([1.4, 1.42, 1.4, 1.3, 1.15, 1.05, 1.0, 0.85, 0.78, 0.75, 0.72, 0.72, 0.7, 0.65, 0.62, 0.58, 0.57, 0.55, 0.55, 0.52, 0.5, 0.47],
               [1.28, 1.28, 1.25, 1.15, 1.0, 0.92, 0.86, 0.74, 0.67, 0.64, 0.62, 0.62, 0.6, 0.55, 0.52, 0.48, 0.47, 0.45, 0.45, 0.42, 0.4, 0.38],
               [1.52, 1.55, 1.55, 1.45, 1.3, 1.18, 1.12, 0.96, 0.88, 0.85, 0.82, 0.82, 0.8, 0.75, 0.72, 0.68, 0.67, 0.65, 0.65, 0.62, 0.6, 0.57]),
    "green": ([1.4, 1.35, 1.2, 1.1, 1.05, 1.14, 1.0, 1.02, 0.85, 0.75, 0.7, 0.6, 0.58, 0.58, 0.55, 0.5, 0.5, 0.45, 0.44, 0.42, 0.42, 0.4],
              [1.3, 1.22, 1.08, 0.98, 0.92, 1.0, 0.87, 0.88, 0.72, 0.62, 0.56, 0.47, 0.44, 0.42, 0.4, 0.38, 0.38, 0.36, 0.36, 0.35, 0.35, 0.34],
              [1.52, 1.5, 1.36, 1.25, 1.2, 1.28, 1.15, 1.18, 1.0, 0.9, 0.84, 0.74, 0.72, 0.72, 0.68, 0.63, 0.62, 0.56, 0.54, 0.52, 0.52, 0.5]),
    "red": ([1.4, 1.4, 1.45, 1.45, 1.3, 1.15, 1.0, 0.9, 0.85, 0.82, 0.8, 0.76, 0.75, 0.72, 0.7, 0.67, 0.65, 0.6, 0.58, 0.55, 0.52, 0.5],
            [1.28, 1.28, 1.3, 1.3, 1.15, 1.02, 0.88, 0.79, 0.74, 0.72, 0.7, 0.66, 0.65, 0.62, 0.6, 0.57, 0.55, 0.5, 0.48, 0.45, 0.42, 0.4],
            [1.52, 1.52, 1.6, 1.62, 1.45, 1.28, 1.12, 1.01, 0.96, 0.93, 0.9, 0.86, 0.85, 0.82, 0.8, 0.77, 0.75, 0.7, 0.68, 0.65, 0.62, 0.6]),
    "purple": ([1.4, 1.5, 1.45, 1.3, 1.25, 1.15, 1.05, 1.05, 1.05, 1.05, 0.95, 0.9, 0.95, 0.78, 0.77, 0.76, 0.75, 0.72, 0.7, 0.7, 0.66, 0.62],
               [1.28, 1.35, 1.3, 1.15, 1.08, 0.98, 0.88, 0.85, 0.82, 0.8, 0.75, 0.72, 0.72, 0.65, 0.64, 0.63, 0.62, 0.6, 0.58, 0.58, 0.55, 0.52],
               [1.55, 1.65, 1.6, 1.48, 1.45, 1.38, 1.35, 1.4, 1.5, 1.5, 1.5, 1.48, 1.45, 1.2, 1.0, 0.95, 0.92, 0.88, 0.85, 0.82, 0.78, 0.74]),
    "brown": ([1.95, 1.9, 1.88, 1.85, 1.8, 1.75, 1.7, 1.68, 1.62, 1.55, 1.45, 1.35, 1.3, 1.18, 1.2, 1.15, 1.13, 1.13, 1.12, 1.1, 1.07, 1.08],
              [1.75, 1.75, 1.72, 1.7, 1.7, 1.7, 1.6, 1.5, 1.35, 1.2, 1.15, 1.1, 0.9, 0.85, 0.85, 0.85, 0.88, 0.88, 0.88, 0.88, 0.88, 0.88],
              [2.1, 2.08, 2.05, 2.0, 1.95, 1.92, 1.9, 1.85, 1.82, 1.78, 1.7, 1.62, 1.55, 1.45, 1.45, 1.45, 1.42, 1.42, 1.4, 1.4, 1.4, 1.4]),
    "pink": ([1.78, 1.62, 1.6, 1.75, 1.85, 2.0, 1.95, 2.05, 2.0, 2.05, 1.87, 2.0, 2.0, 2.05, 2.05, 2.03, 2.03, 2.05, 2.07, 2.08, 2.1, 2.1],
             [1.7, 1.5, 1.5, 1.55, 1.6, 1.55, 1.5, 1.55, 1.6, 1.75, 1.8, 1.7, 1.65, 1.6, 1.6, 1.55, 1.75, 1.85, 1.9, 1.95, 1.95, 1.95],
             [1.9, 1.78, 1.75, 1.9, 2.05, 2.15, 2.15, 2.2, 2.15, 2.2, 2.15, 2.15, 2.2, 2.15, 2.18, 2.15, 2.16, 2.18, 2.18, 2.2, 2.2, 2.2]),
}

styblinski_distance = {
    "blue": ([0.75, 0.76, 0.76, 0.74, 0.75, 0.72, 0.75, 0.76, 0.76, 0.76, 0.76, 0.76, 0.76, 0.76, 0.76, 0.76, 0.76, 0.76, 0.76, 0.76, 0.59, 0.64],
             [0.6, 0.6, 0.58, 0.57, 0.56, 0.55, 0.55, 0.55, 0.55, 0.56, 0.57, 0.57, 0.57, 0.57, 0.57, 0.57, 0.57, 0.57, 0.57, 0.57, 0.5, 0.52],
             [0.85, 0.87, 0.87, 0.86, 0.86, 0.86, 0.87, 0.87, 0.87, 0.86, 0.8, 0.78, 0.78, 0.78, 0.77, 0.77, 0.77, 0.77, 0.77, 0.77, 0.76, 0.76]),
    "orange": ([0.73, 0.74, 0.74, 0.72, 0.71, 0.7, 0.74, 0.655, 0.57, 0.55, 0.55, 0.543, 0.53, 0.53, 0.53, 0.53, 0.53, 0.53, 0.53, 0.53, 0.53, 0.53],
               [0.6, 0.58, 0.56, 0.55, 0.55, 0.55, 0.55, 0.53, 0.52, 0.52, 0.52, 0.52, 0.51, 0.51, 0.51, 0.51, 0.51, 0.51, 0.51, 0.51, 0.51, 0.51],
               [0.85, 0.84, 0.83, 0.82, 0.81, 0.8, 0.8, 0.78, 0.75, 0.72, 0.68, 0.62, 0.57, 0.56, 0.56, 0.56, 0.56, 0.56, 0.56, 0.56, 0.56, 0.56]),
    "green": ([0.74, 0.72, 0.7, 0.68, 0.68, 0.7, 0.66, 0.62, 0.6, 0.58, 0.55, 0.55, 0.53, 0.53, 0.53, 0.53, 0.53, 0.53, 0.53, 0.53, 0.53, 0.53],
              [0.6, 0.58, 0.56, 0.55, 0.55, 0.55, 0.54, 0.53, 0.52, 0.52, 0.51, 0.51, 0.51, 0.51, 0.51, 0.51, 0.51, 0.51, 0.51, 0.51, 0.51, 0.51],
              [0.84, 0.83, 0.82, 0.81, 0.8, 0.8, 0.78, 0.75, 0.72, 0.7, 0.66, 0.62, 0.57, 0.56, 0.56, 0.56, 0.56, 0.56, 0.56, 0.56, 0.56, 0.56]),
    "red": ([0.75, 0.73, 0.72, 0.72, 0.74, 0.76, 0.74, 0.73, 0.66, 0.66, 0.65, 0.65, 0.65, 0.53, 0.53, 0.52, 0.52, 0.52, 0.52, 0.52, 0.32, 0.12],
            [0.6, 0.58, 0.57, 0.56, 0.56, 0.56, 0.56, 0.55, 0.55, 0.55, 0.55, 0.55, 0.55, 0.1, 0.05, 0.05, 0.05, 0.05, 0.05, 0.05, 0.04, 0.03],
            [0.86, 0.85, 0.84, 0.84, 0.84, 0.84, 0.82, 0.8, 0.78, 0.78, 0.77, 0.77, 0.77, 0.7, 0.7, 0.7, 0.7, 0.7, 0.7, 0.7, 0.6, 0.4]),
    "purple": ([0.73, 0.74, 0.73, 0.72, 0.72, 0.71, 0.71, 0.7, 0.7, 0.7, 0.6, 0.56, 0.56, 0.54, 0.54, 0.54, 0.53, 0.53, 0.53, 0.53, 0.53, 0.53],
               [0.6, 0.58, 0.57, 0.56, 0.56, 0.56, 0.55, 0.55, 0.55, 0.55, 0.52, 0.5, 0.5, 0.5, 0.5, 0.5, 0.5, 0.5, 0.5, 0.5, 0.5, 0.5],
               [0.86, 0.86, 0.85, 0.85, 0.84, 0.84, 0.83, 0.82, 0.82, 0.81, 0.75, 0.7, 0.7, 0.68, 0.68, 0.68, 0.68, 0.68, 0.68, 0.68, 0.68, 0.68]),
    "brown": ([0.85, 0.8, 0.85, 0.78, 0.75, 0.7, 0.7, 0.68, 0.66, 0.62, 0.59, 0.56, 0.54, 0.53, 0.53, 0.52, 0.52, 0.51, 0.5, 0.47, 0.45, 0.45],
              [0.6, 0.58, 0.58, 0.56, 0.55, 0.55, 0.54, 0.53, 0.5, 0.45, 0.35, 0.3, 0.25, 0.25, 0.25, 0.25, 0.25, 0.25, 0.22, 0.2, 0.2, 0.2],
              [0.95, 0.93, 0.92, 0.9, 0.88, 0.85, 0.83, 0.8, 0.78, 0.77, 0.76, 0.75, 0.74, 0.74, 0.73, 0.72, 0.72, 0.71, 0.7, 0.68, 0.67, 0.66]),
    "pink": ([0.72, 0.73, 0.73, 0.72, 0.72, 0.68, 0.57, 0.6, 0.5, 0.58, 0.4, 0.52, 0.75, 0.72, 0.68, 0.72, 0.65, 0.56, 0.58, 0.58, 0.55, 0.62],
             [0.58, 0.55, 0.5, 0.45, 0.4, 0.3, 0.25, 0.22, 0.2, 0.17, 0.17, 0.17, 0.1, 0.06, 0.05, 0.05, 0.05, 0.05, 0.05, 0.05, 0.05, 0.05],
             [0.8, 0.82, 0.84, 0.86, 0.88, 0.9, 0.9, 0.9, 0.88, 0.9, 0.88, 0.95, 0.92, 0.9, 0.88, 0.86, 0.85, 0.82, 0.8, 0.8, 0.8, 0.78]),
}

ROW_NAMES = ["Bumped Bowl", "Stepped Sphere", "Quintic", "Mirjalili-Lewis 04", "Levy 03", "Styblinski-Tang"]
COL_TITLES = ["Regret", "Distance from optimum"]

PANELS = [
    [bumped_bowl_regret, bumped_bowl_distance],
    [stepped_sphere_regret, stepped_sphere_distance],
    [quintic_regret, quintic_distance],
    [mirjalili_regret, mirjalili_distance],
    [levy_regret, levy_distance],
    [styblinski_regret, styblinski_distance],
]

Y_RANGES = [
    [[0.0, 4.25], [-0.028, 0.704]],
    [[0.0, 8.2], [0.064, 0.752]],
    [[0.0, 137.0], [-0.018, 0.876]],
    [[0.0, 0.767], [-0.03, 1.025]],
    [[0.0, 3.66], [-0.005, 0.82]],
    [[0.0, 2.3], [-0.016, 1.077]],
]

Y_TICKVALS = [
    [[0, 2, 4], [0, 0.25, 0.5]],
    [[0, 5], [0.25, 0.5]],
    [[0, 50, 100], [0, 0.5]],
    [[0, 0.5], [0, 0.5, 1.0]],
    [[0, 2], [0, 0.5]],
    [[0, 1, 2], [0, 0.5, 1.0]],
]
Y_TICKTEXT = [
    [["0.0", "2.0", "4.0"], ["0.0", "0.2", "0.5"]],
    [["0.0", "5.0"], ["0.2", "0.5"]],
    [["0.0", "50.0", "100.0"], ["0.0", "0.5"]],
    [["0.0", "0.5"], ["0.0", "0.5", "1.0"]],
    [["0.0", "2.0"], ["0.0", "0.5"]],
    [["0.0", "1.0", "2.0"], ["0.0", "0.5", "1.0"]],
]
X_TICKS = [0, 20, 40, 60, 80, 100]

SANS = "Lato, Noto Sans, sans-serif"
SERIF = "Liberation Serif, DejaVu Serif, serif"


def rgba(name, a):
    r, g, b = COLORS[name]
    return f"rgba({r},{g},{b},{a})"


fig = make_subplots(rows=6, cols=2, horizontal_spacing=0.0906, vertical_spacing=0.0275)

for r, row in enumerate(PANELS, start=1):
    for c, panel in enumerate(row, start=1):
        # bands first, then the mean lines on top
        for name in DRAW_ORDER:
            mean, lo, hi = panel[name]
            assert len(mean) == len(lo) == len(hi) == len(X), (r, c, name)
            fig.add_trace(go.Scatter(
                x=X + X[::-1], y=hi + lo[::-1], mode="lines", fill="toself",
                fillcolor=rgba(name, 0.3), line=dict(width=0),
                hoverinfo="skip", showlegend=False), row=r, col=c)
        for name in DRAW_ORDER:
            mean = panel[name][0]
            fig.add_trace(go.Scatter(
                x=X, y=mean, mode="lines", line=dict(color=rgba(name, 1), width=2.5),
                showlegend=False), row=r, col=c)
        vcol = "rgba(60,60,60,0.85)" if c == 1 else "rgba(120,135,160,0.85)"
        fig.add_vline(x=6, line=dict(color=vcol, width=0.8, dash="3px,2px"), row=r, col=c)
        fig.update_xaxes(range=[0, 100], tickvals=X_TICKS, showticklabels=(r == 6), row=r, col=c)
        fig.update_yaxes(range=Y_RANGES[r - 1][c - 1], tickvals=Y_TICKVALS[r - 1][c - 1],
                         ticktext=Y_TICKTEXT[r - 1][c - 1], row=r, col=c)

axis_style = dict(showline=True, mirror=True, linecolor="black", linewidth=1,
                  ticks="outside", ticklen=5, tickwidth=1, tickcolor="black",
                  showgrid=False, zeroline=False,
                  tickfont=dict(family=SERIF, size=13, color="black"))
fig.update_xaxes(**axis_style)
fig.update_yaxes(**axis_style)

annotations = []
for i, t in enumerate(COL_TITLES):
    annotations.append(dict(text=t, x=[0.2273, 0.7727][i], y=1.0225, xref="paper", yref="paper",
                            showarrow=False, xanchor="center", yanchor="middle",
                            font=dict(family=SANS, size=16.5, color="black")))
    annotations.append(dict(text="Number of evaluations", x=[0.2273, 0.7727][i], y=-0.05625,
                            xref="paper", yref="paper", showarrow=False,
                            xanchor="center", yanchor="middle",
                            font=dict(family=SANS, size=14, color="black")))
for i, name in enumerate(ROW_NAMES):
    top = 1 - i * (0.14375 + 0.0275)
    annotations.append(dict(text=name, x=-0.095, y=top - 0.14375 / 2, xref="paper", yref="paper",
                            showarrow=False, textangle=-90, xanchor="center", yanchor="middle",
                            font=dict(family=SANS, size=14, color="black")))

# the page adds an 8px body margin, so the figure is 8px smaller and shifted
fig.update_layout(
    width=790, height=900,
    margin=dict(l=79, r=27, t=32, b=68),
    plot_bgcolor="white", paper_bgcolor="white",
    annotations=annotations,
    showlegend=False,
)

fig.write_html("out.html")
